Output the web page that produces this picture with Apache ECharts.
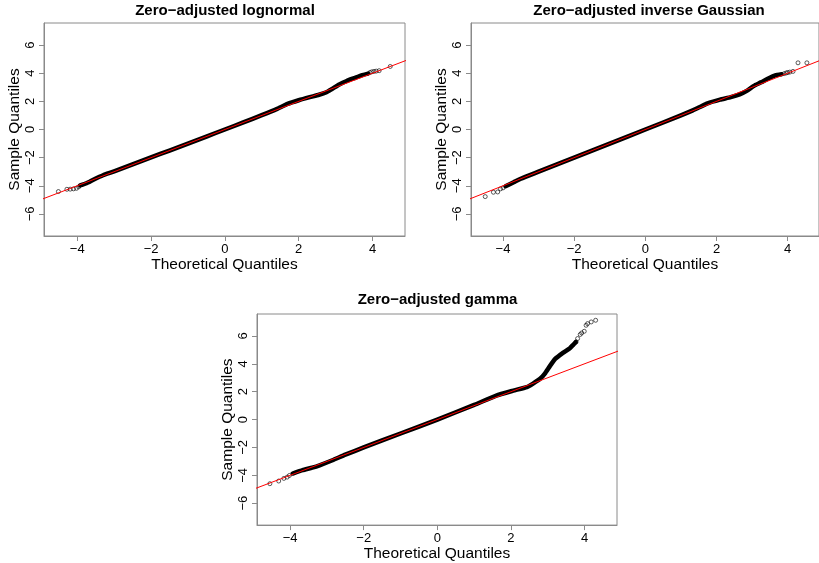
<!DOCTYPE html>
<html>
<head>
<meta charset="utf-8">
<script src="https://cdn.jsdelivr.net/npm/echarts@6/dist/echarts.min.js"></script>
<style>html,body{margin:0;padding:0;background:#fff}#c{width:819px;height:563px}</style>
</head>
<body>
<div id="c"></div>
<script>
// ---- Data ----
var titles = ['Zero\u2212adjusted lognormal', 'Zero\u2212adjusted inverse Gaussian', 'Zero\u2212adjusted gamma'];
var xTicks = [-4, -2, 0, 2, 4];
var yTicks = [-6, -4, -2, 0, 2, 4, 6];
var refLine = [[-6, -6], [6, 6]];

// Zero-adjusted lognormal: dense band and sparse tail points [theoretical, sample]
var lognormalBand = [[-3.92,-3.98],[-3.75,-3.82],[-3.55,-3.55],[-3.3,-3.25],[-3.0,-2.98],[-2.5,-2.48],[-2.0,-1.98],[-1.5,-1.5],[-1.0,-1.0],[-0.5,-0.5],[0,0],[0.5,0.5],[1.0,1.02],[1.4,1.45],[1.7,1.82],[2.0,2.08],[2.3,2.3],[2.55,2.47],[2.75,2.65],[2.9,2.88],[3.1,3.2],[3.3,3.45],[3.5,3.65],[3.7,3.85],[3.88,3.97]];
var lognormalTails = [[-4.51,-4.41],[-4.28,-4.25],[-4.19,-4.24],[-4.1,-4.22],[-4.02,-4.18],[-3.96,-4.08],[3.93,4.05],[3.98,4.1],[4.04,4.13],[4.1,4.15],[4.18,4.18],[4.48,4.48]];

// Zero-adjusted inverse Gaussian
var invGaussBand = [[-3.93,-4.03],[-3.7,-3.75],[-3.5,-3.5],[-3.0,-3.0],[-2.0,-2.0],[-1.0,-1.0],[0,0],[1.0,1.0],[1.3,1.32],[1.5,1.56],[1.75,1.86],[2.1,2.12],[2.4,2.3],[2.65,2.5],[2.85,2.75],[3.05,3.1],[3.25,3.35],[3.47,3.65],[3.65,3.85],[3.83,3.93]];
var invGaussTails = [[-4.5,-4.77],[-4.27,-4.46],[-4.15,-4.44],[-4.07,-4.22],[-4.0,-4.15],[3.9,3.97],[3.96,4.02],[4.0,4.05],[4.06,4.08],[4.15,4.13],[4.29,4.74],[4.54,4.74]];

// Zero-adjusted gamma
var gammaBand = [[-3.93,-3.87],[-3.66,-3.63],[-3.4,-3.45],[-3.2,-3.28],[-2.85,-2.92],[-2.5,-2.52],[-2.0,-2.0],[-1.0,-1.0],[0,0],[1.0,1.05],[1.6,1.72],[2.06,2.07],[2.43,2.33],[2.6,2.58],[2.79,2.92],[2.92,3.3],[3.06,3.85],[3.2,4.35],[3.42,4.8],[3.6,5.12],[3.69,5.36],[3.76,5.55]];
var gammaTails = [[-4.55,-4.6],[-4.31,-4.41],[-4.17,-4.22],[-4.08,-4.13],[-4.02,-4.01],[3.77,5.57],[3.81,5.81],[3.88,6.1],[3.92,6.21],[3.99,6.33],[4.04,6.76],[4.08,6.88],[4.18,7.0],[4.3,7.12]];

var bands = [lognormalBand, invGaussBand, gammaBand];
var tails = [lognormalTails, invGaussTails, gammaTails];

// ---- Layout ----
var FONT = '"Liberation Sans", Arial, Helvetica, sans-serif';
var GRAY = '#8a8a8a';
var grids = [
  {left: 44, top: 23, width: 361, height: 213},
  {left: 471, top: 23, width: 358, height: 213},
  {left: 257, top: 314, width: 360, height: 212}
];
var titleCenters = [[225, 3], [649, 3], [437.5, 292]];

function fmt(v) { return String(v).replace('-', '\u2212'); }

var option = {
  animation: false,
  backgroundColor: '#ffffff',
  title: titles.map(function (t, i) {
    return {
      text: t, left: titleCenters[i][0], top: titleCenters[i][1], textAlign: 'center', padding: 0,
      textStyle: {fontFamily: FONT, fontSize: 15, fontWeight: 'bold', color: '#000'}
    };
  }),
  grid: grids.map(function (g) {
    return {left: g.left, top: g.top, width: g.width, height: g.height, show: true,
      borderColor: GRAY, borderWidth: 1, backgroundColor: 'transparent', containLabel: false};
  }),
  xAxis: grids.map(function (g, i) {
    return {
      type: 'value', gridIndex: i, min: -4.9, max: 4.88, position: 'bottom',
      name: 'Theoretical Quantiles', nameLocation: 'middle', nameGap: 16,
      nameTextStyle: {fontFamily: FONT, fontSize: 15.5, color: '#000'},
      axisLine: {show: true, onZero: false, lineStyle: {color: GRAY, width: 1}},
      axisTick: {show: true, inside: false, length: 5, lineStyle: {color: GRAY, width: 1}, customValues: xTicks},
      axisLabel: {show: true, margin: 7, fontFamily: FONT, fontSize: 13, color: '#000', customValues: xTicks, formatter: fmt},
      splitLine: {show: false}
    };
  }),
  yAxis: grids.map(function (g, i) {
    return {
      type: 'value', gridIndex: i, min: -7.57, max: 7.57, position: 'left',
      name: 'Sample Quantiles', nameLocation: 'middle', nameGap: 20,
      nameTextStyle: {fontFamily: FONT, fontSize: 15.5, color: '#000'},
      axisLine: {show: true, onZero: false, lineStyle: {color: GRAY, width: 1}},
      axisTick: {show: true, inside: false, length: 5, lineStyle: {color: GRAY, width: 1}, customValues: yTicks},
      axisLabel: {show: true, rotate: 90, margin: 7, fontFamily: FONT, fontSize: 13, color: '#000', customValues: yTicks, formatter: fmt},
      splitLine: {show: false}
    };
  }),
  series: []
};

for (var i = 0; i < 3; i++) {
  option.series.push({
    type: 'line', xAxisIndex: i, yAxisIndex: i, data: bands[i], smooth: 0.15,
    showSymbol: false, symbol: 'none', lineStyle: {color: '#000', width: 4.5, join: 'round', cap: 'round'}, z: 2, silent: true
  });
  option.series.push({
    type: 'scatter', xAxisIndex: i, yAxisIndex: i, data: tails[i], symbol: 'circle', symbolSize: 4,
    itemStyle: {color: 'rgba(255,255,255,0)', borderColor: '#000', borderWidth: 0.8}, z: 3, silent: true
  });
  option.series.push({
    type: 'line', xAxisIndex: i, yAxisIndex: i, data: refLine, showSymbol: false, symbol: 'none',
    clip: true, lineStyle: {color: '#ff0000', width: 1}, z: 4, silent: true
  });
}

var chart = echarts.init(document.getElementById('c'), null, {renderer: 'canvas'});
chart.setOption(option);
</script>
</body>
</html>
